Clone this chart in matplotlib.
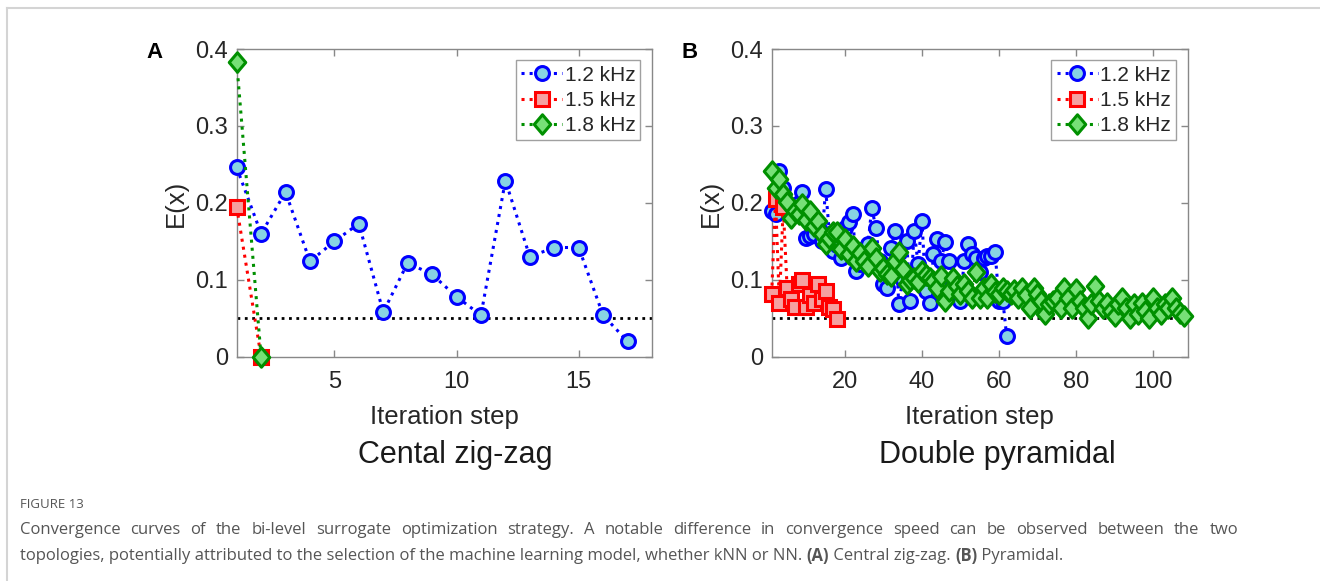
import matplotlib
matplotlib.use("Agg")
import matplotlib.pyplot as plt
from matplotlib.lines import Line2D
from matplotlib.path import Path

plt.rcParams['font.family'] = ['Liberation Sans', 'DejaVu Sans']

# panel A: central zig-zag
a_blue = [0.246, 0.160, 0.214, 0.124, 0.150, 0.173, 0.058, 0.122, 0.107, 0.078,
          0.054, 0.229, 0.130, 0.142, 0.142, 0.054, 0.020]
a_red = [0.195, 0.0]
a_green = [0.383, 0.0]

# panel B: double pyramidal
b_blue = [0.190, 0.186, 0.242, 0.220, 0.200, 0.195, 0.185, 0.200, 0.214, 0.155,
          0.157, 0.160, 0.170, 0.150, 0.218, 0.160, 0.138, 0.145, 0.129, 0.168,
          0.175, 0.186, 0.112, 0.120, 0.140, 0.147, 0.194, 0.168, 0.125, 0.094,
          0.090, 0.142, 0.164, 0.068, 0.100, 0.151, 0.073, 0.164, 0.120, 0.177,
          0.086, 0.070, 0.133, 0.153, 0.125, 0.149, 0.125, 0.095, 0.080, 0.073,
          0.125, 0.147, 0.133, 0.129, 0.110, 0.129, 0.131, 0.131, 0.136, 0.073,
          0.073, 0.027]
b_red = [0.082, 0.205, 0.070, 0.195, 0.090, 0.075, 0.065, 0.095, 0.100, 0.065,
         0.080, 0.070, 0.095, 0.075, 0.085, 0.065, 0.062, 0.049]
b_green = [0.242, 0.220, 0.231, 0.212, 0.201, 0.181, 0.190, 0.185, 0.199, 0.178,
           0.190, 0.170, 0.177, 0.160, 0.147, 0.155, 0.162, 0.162, 0.140, 0.153,
           0.133, 0.144, 0.125, 0.135, 0.125, 0.118, 0.142, 0.129, 0.112, 0.116,
           0.108, 0.105, 0.125, 0.136, 0.114, 0.094, 0.100, 0.103, 0.097, 0.112,
           0.106, 0.103, 0.098, 0.090, 0.105, 0.073, 0.085, 0.103, 0.092, 0.081,
           0.094, 0.085, 0.077, 0.110, 0.077, 0.090, 0.077, 0.094, 0.084, 0.081,
           0.090, 0.085, 0.081, 0.087, 0.077, 0.090, 0.080, 0.064, 0.090, 0.081,
           0.073, 0.055, 0.068, 0.073, 0.077, 0.064, 0.090, 0.077, 0.064, 0.088,
           0.073, 0.064, 0.051, 0.068, 0.092, 0.073, 0.064, 0.070, 0.060, 0.053,
           0.068, 0.077, 0.064, 0.051, 0.068, 0.055, 0.070, 0.060, 0.051, 0.077,
           0.064, 0.055, 0.068, 0.064, 0.077, 0.064, 0.057, 0.053]

labels = ["1.2 kHz", "1.5 kHz", "1.8 kHz"]
threshold = 0.05

# matlab-like diamond, a bit taller than wide
diamond = Path([(0, 1), (0.85, 0), (0, -1), (-0.85, 0), (0, 1)],
               [Path.MOVETO, Path.LINETO, Path.LINETO, Path.LINETO, Path.CLOSEPOLY])

styles = [
    dict(marker='o', color='#0000ff', mfc='#87d3e3', mec='#0000ff', ms=10),
    dict(marker='s', color='#ff0000', mfc='#f5a0a0', mec='#ff0000', ms=9.5),
    dict(marker=diamond, color='#009000', mfc='#77e077', mec='#009000', ms=14),
]

fig = plt.figure(figsize=(13.2, 5.81), dpi=100)

panels = [
    dict(rect=[0.1793, 0.386, 0.3146, 0.5296], data=[a_blue, a_red, a_green],
         xlim=(1, 18), xticks=[5, 10, 15], letter="A", title="Cental zig-zag",
         title_x=455),
    dict(rect=[0.5846, 0.386, 0.3152, 0.5296], data=[b_blue, b_red, b_green],
         xlim=(1, 109), xticks=[20, 40, 60, 80, 100], letter="B",
         title="Double pyramidal", title_x=997),
]

for p in panels:
    ax = fig.add_axes(p['rect'])
    ax.axhline(threshold, color='black', ls=':', lw=2, zorder=1)
    for series, st, lab in zip(p['data'], styles, labels):
        xs = list(range(1, len(series) + 1))
        ax.plot(xs, series, ls=':', lw=2.2, mew=2.2, label=lab, zorder=3,
                clip_on=False, **st)
    ax.set_xlim(*p['xlim'])
    ax.set_ylim(0, 0.4)
    ax.set_xticks(p['xticks'])
    ax.set_yticks([0, 0.1, 0.2, 0.3, 0.4])
    ax.set_yticklabels(["0", "0.1", "0.2", "0.3", "0.4"])
    ax.tick_params(direction='in', top=True, right=True, length=5, width=1,
                   colors='#888888', labelcolor='#262626', labelsize=17, pad=6)
    ax.tick_params(axis='x', pad=10)
    for s in ax.spines.values():
        s.set_color('#888888')
        s.set_linewidth(1)
    ax.set_xlabel("Iteration step", fontsize=18.5, color='#262626', labelpad=9)
    ax.set_ylabel("E(x)", fontsize=18.5, color='#262626')
    ax.yaxis.set_label_coords(-0.118, 0.5)
    leg = ax.legend(loc='upper right', fontsize=15, frameon=True, fancybox=False,
                    borderpad=0.25, labelspacing=0.3, handlelength=2.0,
                    handletextpad=0.1, borderaxespad=0.55)
    leg.get_frame().set_edgecolor('#888888')
    leg.get_frame().set_linewidth(1)
    leg.set_zorder(5)
    for t in leg.get_texts():
        t.set_color('#262626')
    l, b, w, h = p['rect']
    fig.text(l - 0.062, 1 - 52 / 581, p['letter'], fontsize=16, fontweight='bold',
             ha='center', va='center', color='black')
    fig.text(p['title_x'] / 1320, 1 - 455 / 581, p['title'], fontsize=22,
             ha='center', va='center', color='#1a1a1a')

# thin frame around the figure area
fig.add_artist(Line2D([7 / 1320, 1], [1 - 7.5 / 581, 1 - 7.5 / 581],
                      transform=fig.transFigure, color='#d4d4d4', lw=1.5))
fig.add_artist(Line2D([7 / 1320, 7 / 1320], [0, 1 - 7.5 / 581],
                      transform=fig.transFigure, color='#d4d4d4', lw=1.5))

# caption
cap_font = ['Open Sans', 'DejaVu Sans']
cap_color = '#555555'
cap_size = 12
fig.text(20 / 1320, 1 - 504 / 581, "FIGURE 13", fontsize=9.5, color=cap_color,
         family=cap_font, va='center')

renderer = fig.canvas.get_renderer()

# first caption line is justified to the full text width
line1 = ("Convergence curves of the bi-level surrogate optimization strategy. A notable "
         "difference in convergence speed can be observed between the two")
words = line1.split(' ')
word_texts = []
total = 0
for wd in words:
    t = fig.text(0, 1 - 530 / 581, wd, fontsize=cap_size, color=cap_color,
                 family=cap_font, va='center')
    total += t.get_window_extent(renderer=renderer).width
    word_texts.append(t)
gap = (1238 - 20 - total) / (len(words) - 1)
x_px = 20
for t in word_texts:
    t.set_x(x_px / 1320)
    x_px += t.get_window_extent(renderer=renderer).width + gap

x_px = 20
pieces = [
    ("topologies, potentially attributed to the selection of the machine learning model, "
     "whether kNN or NN. ", 'normal'),
    ("(A)", 'bold'),
    (" Central zig-zag. ", 'normal'),
    ("(B)", 'bold'),
    (" Pyramidal.", 'normal'),
]
for txt, wt in pieces:
    t = fig.text(x_px / 1320, 1 - 556 / 581, txt, fontsize=cap_size, color=cap_color,
                 family=cap_font, fontweight=wt, va='center')
    bb = t.get_window_extent(renderer=renderer)
    x_px += bb.width

fig.savefig("out.png", dpi=100)
